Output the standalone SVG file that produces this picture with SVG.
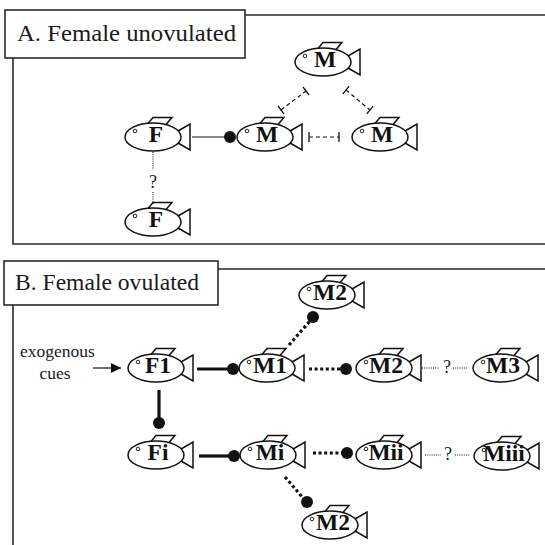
<svg xmlns="http://www.w3.org/2000/svg" width="545" height="545" viewBox="0 0 545 545">
  <style>
    .frame { fill: none; stroke: #2a2a2a; stroke-width: 1.6; }
    .labelbox { fill: #fff; stroke: #2a2a2a; stroke-width: 1.6; }
    .title { font-family: "Liberation Serif", "Times New Roman", serif; font-size: 24px; fill: #1a1a1a; }
    .body { fill: #fff; stroke: #111; stroke-width: 1.5; }
    .fin { fill: none; stroke: #111; stroke-width: 1.5; stroke-linejoin: miter; }
    .eye { fill: none; stroke: #111; stroke-width: 0.9; }
    .name { font-family: "Liberation Serif", "Times New Roman", serif; font-size: 23.5px; font-weight: bold; fill: #111; text-anchor: middle; }
    .note { font-family: "Liberation Serif", "Times New Roman", serif; font-size: 17.5px; fill: #1a1a1a; }
    .q { font-family: "Liberation Serif", "Times New Roman", serif; font-size: 18px; fill: #1a1a1a; text-anchor: middle; }
    .thin { stroke: #111; stroke-width: 1.2; fill: none; }
    .inhib { stroke: #111; stroke-width: 1.2; fill: none; stroke-dasharray: 4 3; }
    .tbar { stroke: #111; stroke-width: 1.3; fill: none; }
    .faint { stroke: #111; stroke-width: 1; fill: none; stroke-dasharray: 1 1.2; }
    .bold { stroke: #111; stroke-width: 3.2; fill: none; }
    .dots { stroke: #111; stroke-width: 3.2; fill: none; stroke-dasharray: 3 2.6; }
    .knob { fill: #111; }
  </style>
  <defs>
    <!-- generic fish outline, centred on the body -->
    <g id="fish">
      <polyline class="fin" points="25,-6 37,-13 37,13 25,6"/>
      <ellipse class="body" cx="0" cy="0" rx="28" ry="14"/>
      <polyline class="fin" points="-5,-13.5 0,-19.5 19,-19.5 13,-12.5"/>
      <circle class="eye" cx="-18" cy="-6" r="1.8"/>
    </g>
    <marker id="arrow" viewBox="0 0 10 10" refX="10" refY="5" markerWidth="10" markerHeight="10" markerUnits="userSpaceOnUse" orient="auto">
      <path d="M0,0 L10,5 L0,10 Z" fill="#111"/>
    </marker>
  </defs>

  <!-- Panel A frame -->
  <g id="panelA">
    <polyline class="frame" points="245,15 545,15"/>
    <polyline class="frame" points="13,58 13,244 545,244"/>
    <rect class="labelbox" x="5" y="10" width="240" height="48"/>
    <text class="title" x="17" y="41" textLength="219" lengthAdjust="spacingAndGlyphs">A. Female unovulated</text>
  </g>

  <!-- Panel B frame -->
  <g id="panelB">
    <polyline class="frame" points="218,269 545,269"/>
    <polyline class="frame" points="13,305 13,545"/>
    <rect class="labelbox" x="4" y="261" width="214" height="44"/>
    <text class="title" x="15" y="290" textLength="184" lengthAdjust="spacingAndGlyphs">B. Female ovulated</text>
  </g>

  <!-- connectors -->
  <g id="connectors">
    <!-- panel A -->
    <line class="thin" x1="192" y1="137" x2="226" y2="137"/>
    <circle class="knob" cx="230" cy="137" r="6"/>

    <line class="inhib" x1="309" y1="137" x2="339" y2="137"/>
    <line class="tbar" x1="309" y1="132" x2="309" y2="142"/>
    <line class="tbar" x1="339" y1="132" x2="339" y2="142"/>

    <line class="inhib" x1="281" y1="110" x2="306" y2="91"/>
    <line class="tbar" x1="278" y1="106" x2="284" y2="114"/>
    <line class="tbar" x1="303" y1="87" x2="309" y2="95"/>

    <line class="inhib" x1="346" y1="90" x2="370" y2="110"/>
    <line class="tbar" x1="349.2" y1="86.2" x2="342.8" y2="93.8"/>
    <line class="tbar" x1="373.2" y1="106.2" x2="366.8" y2="113.8"/>

    <line class="faint" x1="153" y1="152" x2="153" y2="170"/>
    <text class="q" x="153" y="188">?</text>
    <line class="faint" x1="153" y1="192" x2="153" y2="205"/>

    <!-- panel B -->
    <line class="thin" x1="93" y1="368" x2="121" y2="368" marker-end="url(#arrow)"/>

    <line class="bold" x1="197" y1="369" x2="230" y2="369"/>
    <circle class="knob" cx="233" cy="369" r="6"/>

    <line class="bold" x1="159" y1="390" x2="159" y2="420"/>
    <circle class="knob" cx="159" cy="423" r="6"/>

    <line class="bold" x1="199" y1="456" x2="231" y2="456"/>
    <circle class="knob" cx="234" cy="456" r="6"/>

    <line class="dots" x1="309" y1="369" x2="342" y2="369"/>
    <circle class="knob" cx="346" cy="369" r="6"/>

    <line class="dots" x1="313" y1="453" x2="343" y2="453"/>
    <circle class="knob" cx="347" cy="453" r="6"/>

    <line class="dots" x1="289" y1="345" x2="310" y2="321"/>
    <circle class="knob" cx="313" cy="317" r="6"/>

    <line class="dots" x1="285" y1="477" x2="304" y2="499"/>
    <circle class="knob" cx="307" cy="502" r="6"/>

    <line class="faint" x1="422" y1="368" x2="439" y2="368"/>
    <text class="q" x="447" y="373">?</text>
    <line class="faint" x1="453" y1="368" x2="468" y2="368"/>

    <line class="faint" x1="425" y1="455" x2="441" y2="455"/>
    <text class="q" x="448" y="460">?</text>
    <line class="faint" x1="455" y1="455" x2="470" y2="455"/>
  </g>

  <!-- panel A fish -->
  <g id="a-m-top"><use href="#fish" x="323" y="62"/><text class="name" x="325" y="67">M</text></g>
  <g id="a-f"><use href="#fish" x="153" y="137"/><text class="name" x="156" y="142">F</text></g>
  <g id="a-m-mid"><use href="#fish" x="265" y="137"/><text class="name" x="267" y="142">M</text></g>
  <g id="a-m-right"><use href="#fish" x="380" y="137"/><text class="name" x="382" y="142">M</text></g>
  <g id="a-f-low"><use href="#fish" x="153" y="222"/><text class="name" x="156" y="227">F</text></g>

  <!-- panel B fish and cue -->
  <g id="b-cues">
    <text class="note" x="20" y="357">exogenous</text>
    <text class="note" x="55" y="379" text-anchor="middle">cues</text>
  </g>
  <g id="b-f1"><use href="#fish" x="156" y="368"/><text class="name" x="158" y="373">F1</text></g>
  <g id="b-m1"><use href="#fish" x="267" y="368"/><text class="name" x="270" y="373">M1</text></g>
  <g id="b-m2"><use href="#fish" x="384" y="368"/><text class="name" x="386" y="373">M2</text></g>
  <g id="b-m3"><use href="#fish" x="501" y="368"/><text class="name" x="503" y="373">M3</text></g>
  <g id="b-m2-up"><use href="#fish" x="327" y="295"/><text class="name" x="330" y="300">M2</text></g>
  <g id="b-fi"><use href="#fish" x="156" y="455"/><text class="name" x="158" y="460">Fi</text></g>
  <g id="b-mi"><use href="#fish" x="268" y="455"/><text class="name" x="270" y="460">Mi</text></g>
  <g id="b-mii"><use href="#fish" x="384" y="455"/><text class="name" x="386" y="460">Mii</text></g>
  <g id="b-miii"><use href="#fish" x="502" y="456"/><text class="name" x="504" y="461">Miii</text></g>
  <g id="b-m2-down"><use href="#fish" x="330" y="525"/><text class="name" x="333" y="530">M2</text></g>
</svg>
